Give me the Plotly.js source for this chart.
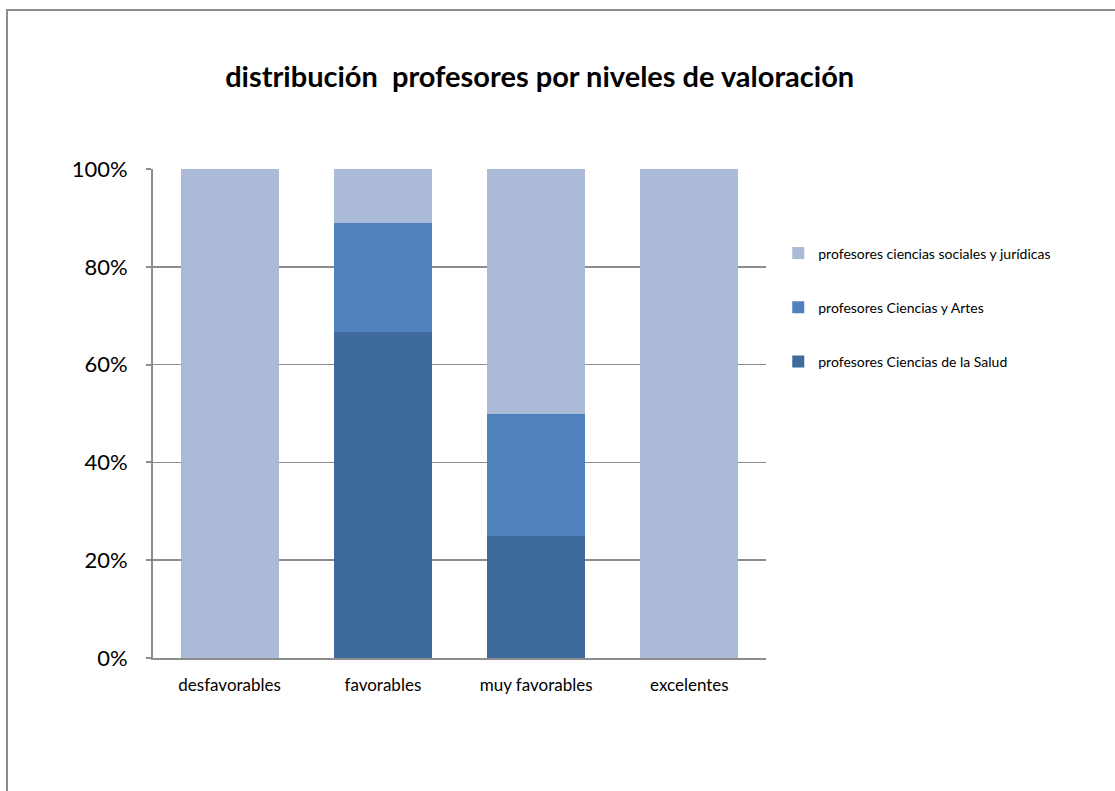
<!DOCTYPE html>
<html>
<head>
<meta charset="utf-8">
<script src="https://cdn.plot.ly/plotly-3.0.1.min.js"></script>
<style>
  html, body { margin: 0; padding: 0; background: #ffffff; }
  #frame { position: absolute; left: 6px; top: 9px; width: 1200px; height: 900px;
           border-top: 2px solid #8c8c8c; border-left: 2px solid #8c8c8c; }
  #chart { position: absolute; left: 0; top: 0; width: 1115px; height: 791px; }
</style>
</head>
<body>
<div id="frame"></div>
<div id="chart"></div>
<script>
const categories = ["desfavorables", "favorables", "muy favorables", "excelentes"];
const saludValues = [0, 66.7, 25, 0];
const artesValues = [0, 22.2, 25, 0];
const socialValues = [100, 11.1, 50, 100];
const seriesNames = ["profesores Ciencias de la Salud", "profesores Ciencias y Artes", "profesores ciencias sociales y jurídicas"];
const seriesColors = ["#3F6A9C", "#4F81BD", "#AABAD7"];
const legendRanks = [3, 2, 1];

const seriesValues = [saludValues, artesValues, socialValues];
const traces = seriesValues.map((vals, i) => ({
  type: "bar",
  name: seriesNames[i],
  x: categories,
  y: vals,
  marker: { color: seriesColors[i], line: { width: 0 } },
  legendgroup: "g" + i,
  legendrank: legendRanks[i],
  hoverinfo: "x+y+name"
}));

const layout = {
  width: 1115,
  height: 791,
  paper_bgcolor: "rgba(0,0,0,0)",
  plot_bgcolor: "rgba(0,0,0,0)",
  barmode: "stack",
  bargap: 0.36,
  margin: { l: 153, r: 349, t: 169, b: 133 },
  font: { family: "Lato, 'Open Sans', sans-serif", color: "#000000" },
  title: {
    text: "<b>distribución  profesores por niveles de valoración</b>",
    font: { family: "Lato, 'Open Sans', sans-serif", size: 29, color: "#000000" },
    x: 0.484, xanchor: "center",
    y: 0.903, yanchor: "middle"
  },
  xaxis: {
    type: "category",
    showline: true,
    linecolor: "#8c8c8c",
    linewidth: 2,
    ticks: "",
    showgrid: false,
    tickfont: { size: 17, color: "#000000" },
    ticklabelstandoff: 11
  },
  yaxis: {
    range: [0, 100],
    dtick: 20,
    tick0: 0,
    ticksuffix: "%",
    showline: true,
    linecolor: "#8c8c8c",
    linewidth: 2,
    ticks: "outside",
    ticklen: 5,
    tickwidth: 2,
    tickcolor: "#8c8c8c",
    showgrid: true,
    gridcolor: "#8c8c8c",
    gridwidth: 1.5,
    zeroline: false,
    tickfont: { size: 22, color: "#000000" },
    ticklabelstandoff: 14
  },
  showlegend: true,
  legend: {
    x: 1.02, xanchor: "left",
    y: 0.86, yanchor: "top",
    traceorder: "grouped",
    tracegroupgap: 33,
    font: { size: 14, color: "#000000" },
    itemwidth: 30,
    bgcolor: "rgba(0,0,0,0)"
  }
};

Plotly.newPlot("chart", traces, layout, { displayModeBar: false, staticPlot: true });
</script>
</body>
</html>
